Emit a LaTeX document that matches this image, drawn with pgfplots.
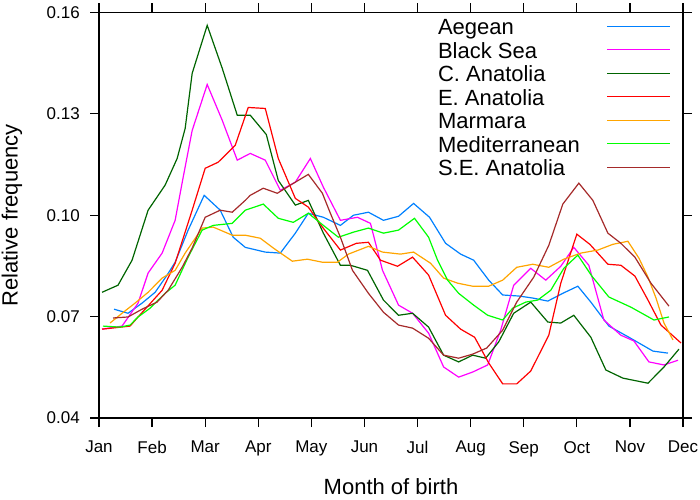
\documentclass[border=0pt]{standalone}
\usepackage{fontspec}
\setmainfont{Liberation Sans}
\usepackage{pgfplots}
\pgfplotsset{compat=1.18}
\definecolor{cAeg}{HTML}{0080FF}
\definecolor{cBla}{HTML}{FF00FF}
\definecolor{cCAn}{HTML}{006400}
\definecolor{cEAn}{HTML}{FF0000}
\definecolor{cMar}{HTML}{FFA500}
\definecolor{cMed}{HTML}{00FF00}
\definecolor{cSEA}{HTML}{A52A2A}
\begin{document}
\begin{tikzpicture}
\begin{axis}[
  scale only axis, width=584pt, height=405.5pt,
  xmin=1, xmax=12, ymin=0.04, ymax=0.16,
  xtick={1,2,3,4,5,6,7,8,9,10,11,12},
  xticklabels={Jan,Feb,Mar,Apr,May,Jun,Jul,Aug,Sep,Oct,Nov,Dec},
  ytick={0.04,0.07,0.10,0.13,0.16},
  yticklabels={0.04,0.07,0.10,0.13,0.16},
  tick align=outside, major tick length=9pt,
  minor tick num=0,
  every tick/.style={black, line width=1.2pt},
  axis line style={line width=1.2pt},
  xticklabel style={font=\fontsize{17}{17}\selectfont, inner sep=0pt, anchor=north},
  yticklabel style={font=\fontsize{17}{17}\selectfont, inner sep=0pt, anchor=east},
  xticklabel shift=14pt,
  yticklabel shift=10pt,
  every axis x label/.style={at={(axis description cs:0.5,-0.170)}, anchor=center, font=\fontsize{22}{22}\selectfont},
  every axis y label/.style={at={(axis description cs:-0.149,0.5)}, rotate=90, anchor=center, font=\fontsize{22}{22}\selectfont},
  xlabel={Month of birth},
  ylabel={Relative frequency},
  legend style={draw=none, fill=none, at={(axis description cs:0.5805,0.9842)}, anchor=north west,
    inner sep=0pt, outer sep=0pt, row sep=2.8pt, column sep=27pt,
    font=\fontsize{22}{22}\selectfont,
    nodes={inner sep=0pt, text height=16pt, text depth=4.7pt}},
  legend cell align=left,
  legend plot pos=right,
  legend image code/.code={\draw[#1, line width=1.2pt] (0pt,3pt) -- (63pt,3pt);},
  every axis plot/.append style={line width=1.2pt},
]
\addplot[cAeg] coordinates {(1.283,0.0722)(1.547,0.0710)(1.811,0.0740)(2.057,0.0772)(2.283,0.0823)(2.434,0.0861)(2.679,0.0956)(2.981,0.1059)(3.283,0.1015)(3.528,0.0935)(3.755,0.0905)(4.132,0.0891)(4.415,0.0888)(4.698,0.0947)(4.943,0.1006)(5.226,0.0994)(5.547,0.0970)(5.792,0.1000)(6.075,0.1009)(6.358,0.0985)(6.642,0.0997)(6.925,0.1035)(7.226,0.0994)(7.528,0.0917)(7.811,0.0885)(8.057,0.0867)(8.340,0.0808)(8.604,0.0764)(8.906,0.0761)(9.170,0.0755)(9.453,0.0746)(9.736,0.0769)(10.019,0.0790)(10.264,0.0743)(10.604,0.0672)(10.981,0.0639)(11.434,0.0598)(11.717,0.0592)};
\addlegendentry{Aegean}
\addplot[cBla] coordinates {(1.057,0.0663)(1.434,0.0672)(1.736,0.0740)(1.925,0.0829)(2.189,0.0888)(2.434,0.0985)(2.585,0.1112)(2.755,0.1251)(3.038,0.1387)(3.321,0.1281)(3.604,0.1163)(3.849,0.1183)(4.132,0.1163)(4.415,0.1074)(4.698,0.1098)(4.981,0.1168)(5.226,0.1083)(5.547,0.0985)(5.868,0.0994)(6.113,0.0976)(6.340,0.0837)(6.642,0.0734)(6.906,0.0710)(7.208,0.0651)(7.491,0.0551)(7.774,0.0521)(8.038,0.0536)(8.321,0.0557)(8.566,0.0660)(8.811,0.0793)(9.132,0.0843)(9.415,0.0808)(9.698,0.0849)(9.943,0.0905)(10.226,0.0852)(10.509,0.0690)(10.830,0.0645)(11.075,0.0628)(11.358,0.0566)(11.642,0.0557)(11.906,0.0571)};
\addlegendentry{Black Sea}
\addplot[cCAn] coordinates {(1.057,0.0772)(1.358,0.0793)(1.623,0.0867)(1.925,0.1015)(2.245,0.1089)(2.472,0.1168)(2.623,0.1257)(2.755,0.1420)(3.038,0.1562)(3.321,0.1435)(3.604,0.1296)(3.849,0.1296)(4.151,0.1239)(4.377,0.1103)(4.698,0.1030)(4.943,0.1044)(5.226,0.0947)(5.547,0.0852)(5.736,0.0852)(6.057,0.0837)(6.358,0.0749)(6.642,0.0704)(6.906,0.0710)(7.208,0.0669)(7.491,0.0586)(7.774,0.0566)(8.038,0.0586)(8.283,0.0577)(8.528,0.0625)(8.811,0.0710)(9.132,0.0743)(9.453,0.0684)(9.698,0.0681)(9.943,0.0704)(10.264,0.0639)(10.547,0.0542)(10.868,0.0518)(11.340,0.0503)(11.642,0.0551)(11.925,0.0604)};
\addlegendentry{C. Anatolia}
\addplot[cEAn] coordinates {(1.057,0.0663)(1.245,0.0666)(1.585,0.0672)(1.736,0.0699)(2.189,0.0778)(2.434,0.0858)(2.755,0.1015)(3.000,0.1139)(3.245,0.1157)(3.566,0.1207)(3.811,0.1319)(4.132,0.1316)(4.377,0.1168)(4.698,0.1050)(4.943,0.1024)(5.208,0.0965)(5.547,0.0897)(5.849,0.0917)(6.075,0.0920)(6.302,0.0867)(6.623,0.0849)(6.906,0.0876)(7.208,0.0823)(7.528,0.0704)(7.811,0.0663)(8.075,0.0639)(8.340,0.0563)(8.604,0.0501)(8.868,0.0501)(9.132,0.0539)(9.472,0.0645)(9.698,0.0799)(10.000,0.0944)(10.245,0.0914)(10.585,0.0855)(10.830,0.0852)(11.094,0.0820)(11.340,0.0749)(11.585,0.0675)(11.962,0.0622)};
\addlegendentry{E. Anatolia}
\addplot[cMar] coordinates {(1.208,0.0681)(1.434,0.0710)(1.679,0.0740)(1.925,0.0772)(2.189,0.0814)(2.434,0.0837)(2.623,0.0888)(2.943,0.0962)(3.151,0.0965)(3.509,0.0941)(3.755,0.0941)(4.038,0.0932)(4.283,0.0903)(4.642,0.0864)(4.925,0.0870)(5.208,0.0861)(5.491,0.0861)(5.698,0.0885)(6.075,0.0908)(6.340,0.0891)(6.679,0.0885)(6.925,0.0891)(7.245,0.0858)(7.491,0.0814)(7.755,0.0799)(8.038,0.0790)(8.340,0.0790)(8.604,0.0808)(8.868,0.0846)(9.170,0.0855)(9.472,0.0846)(9.755,0.0870)(10.075,0.0888)(10.396,0.0897)(10.679,0.0914)(10.962,0.0923)(11.170,0.0873)(11.340,0.0817)(11.491,0.0755)(11.642,0.0681)(11.811,0.0631)};
\addlegendentry{Marmara}
\addplot[cMed] coordinates {(1.075,0.0672)(1.396,0.0669)(1.585,0.0675)(1.736,0.0699)(1.962,0.0725)(2.245,0.0769)(2.434,0.0793)(2.679,0.0876)(2.943,0.0956)(3.151,0.0970)(3.509,0.0976)(3.755,0.1015)(4.094,0.1033)(4.377,0.0991)(4.660,0.0979)(4.943,0.1006)(5.226,0.0970)(5.509,0.0935)(5.792,0.0950)(6.075,0.0962)(6.358,0.0947)(6.642,0.0956)(6.943,0.0991)(7.208,0.0935)(7.377,0.0867)(7.566,0.0808)(7.774,0.0769)(8.057,0.0734)(8.321,0.0704)(8.604,0.0690)(8.792,0.0725)(9.038,0.0743)(9.264,0.0749)(9.509,0.0778)(9.755,0.0843)(10.019,0.0882)(10.283,0.0820)(10.604,0.0758)(11.019,0.0728)(11.453,0.0690)(11.736,0.0699)};
\addlegendentry{Mediterranean}
\addplot[cSEA] coordinates {(1.264,0.0696)(1.547,0.0699)(1.811,0.0722)(2.094,0.0743)(2.302,0.0778)(2.566,0.0846)(2.755,0.0903)(3.000,0.0994)(3.283,0.1015)(3.509,0.1009)(3.755,0.1044)(3.849,0.1059)(4.094,0.1080)(4.358,0.1065)(4.604,0.1089)(4.943,0.1121)(5.208,0.1065)(5.358,0.1006)(5.547,0.0935)(5.774,0.0837)(6.075,0.0769)(6.358,0.0713)(6.642,0.0675)(6.906,0.0666)(7.208,0.0636)(7.491,0.0586)(7.774,0.0577)(8.038,0.0589)(8.302,0.0607)(8.604,0.0660)(8.868,0.0743)(9.189,0.0817)(9.472,0.0911)(9.736,0.1033)(10.038,0.1095)(10.302,0.1044)(10.585,0.0947)(10.830,0.0917)(11.094,0.0876)(11.396,0.0799)(11.736,0.0731)};
\addlegendentry{S.E. Anatolia}
\end{axis}
\pgfresetboundingbox
\path[use as bounding box] (-99pt,-81pt) rectangle (601pt,418pt);
\end{tikzpicture}
\end{document}
